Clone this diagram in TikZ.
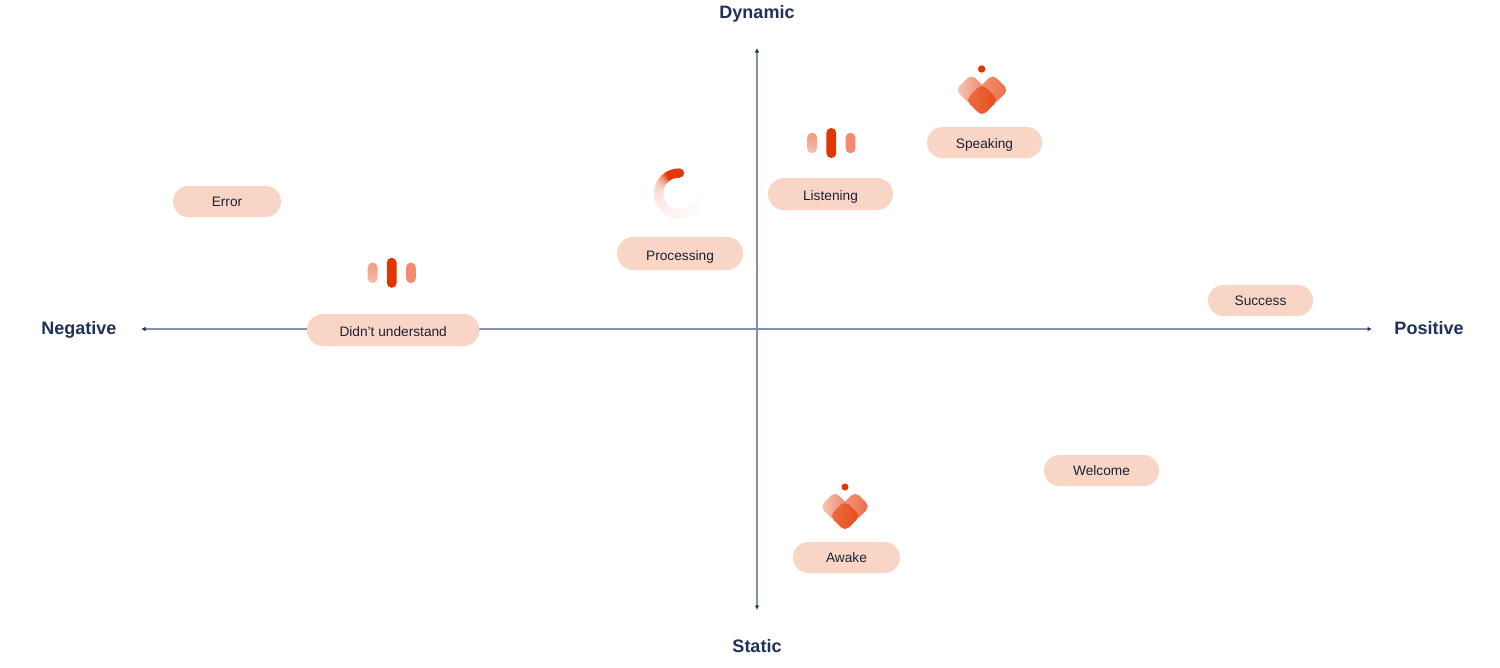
\documentclass[tikz,border=0pt]{standalone}
\usepackage{fontspec}
\setmainfont{Liberation Sans}
\usetikzlibrary{arrows.meta}
\definecolor{axisline}{HTML}{8491AC}
\definecolor{axisdark}{HTML}{1F3158}
\definecolor{pillfill}{HTML}{F9D5C6}
\definecolor{pilltext}{HTML}{1C2233}
\definecolor{hot}{HTML}{E43500}
\definecolor{lobeAa}{HTML}{F7C8B8}
\definecolor{lobeAb}{HTML}{EE8060}
\definecolor{lobeBa}{HTML}{F29A7E}
\definecolor{lobeBb}{HTML}{EC6B46}
\definecolor{lobeCa}{HTML}{EC7044}
\definecolor{lobeCb}{HTML}{E54A18}
\definecolor{barlo}{HTML}{F7BFAE}
\definecolor{barhi}{HTML}{EF9A80}
\definecolor{barside}{HTML}{F28B6F}
\tikzset{
  x=1pt,y=-1pt,
  axisarrow/.style={draw=axisline,line width=1.05pt,{Latex[length=4.5pt,width=4.5pt,color=axisdark]}-{Latex[length=4.5pt,width=4.5pt,color=axisdark]}},
  axislabel/.style={font=\fontsize{18}{20}\selectfont\bfseries,text=axisdark,inner sep=0pt},
  pill/.style={fill=pillfill,text=pilltext,font=\fontsize{13.7}{16}\selectfont,inner sep=0pt,text height=10pt,text depth=0pt,align=center},
  lowered/.style={text height=12pt},
  bar/.style={rounded corners=4.8pt},
  lobe/.style={rounded corners=5.5pt}
}
% heart icon: #1 x, #2 y (centre of the group), #3 scale
\newcommand{\heartmark}[3]{%
  \begin{scope}[shift={(#1,#2)},scale=#3]
    \shade[lobe,shading angle=-45,left color=lobeAa,right color=lobeAb,rotate around={45:(-10.7,-5.5)}] (-21.85,-16.65) rectangle (0.45,5.65);
    \shade[lobe,shading angle=-135,left color=lobeBa,right color=lobeBb,rotate around={45:(10.7,-5.5)}] (-0.45,-16.65) rectangle (21.85,5.65);
    \shade[lobe,shading angle=-45,left color=lobeCa,right color=lobeCb,rotate around={45:(0,4.5)}] (-11.5,-7) rectangle (11.5,16);
  \end{scope}}
% three bars: #1 centre x, #2 centre y
\newcommand{\barsmark}[2]{%
  \begin{scope}[shift={(#1,#2)}]
    \shade[bar,top color=barhi,bottom color=barlo] (-24,-10.2) rectangle (-14.2,10.2);
    \fill[bar,hot] (-4.9,-15) rectangle (4.9,15);
    \fill[bar,barside] (14.3,-10.2) rectangle (24.1,10.2);
  \end{scope}}
\begin{document}
\begin{tikzpicture}
\useasboundingbox (0,0) rectangle (1500,667);
\fill[white] (0,0) rectangle (1500,667);

% axis labels
\node[axislabel] (neg) at (79,330) {Negative};
\node[axislabel] (pos) at (1429,328) {Positive};
\node[axislabel] (dyn) at (757,14) {Dynamic};
\node[axislabel] (sta) at (757,646) {Static};

% axes
\coordinate (xl) at (141,329);
\coordinate (xr) at (1372,329);
\coordinate (yt) at (757,48);
\coordinate (yb) at (757,610);
\draw[axisarrow] (xl) -- (xr);
\draw[axisarrow] (yt) -- (yb);

% pills
\node[pill,lowered,minimum width=115pt,minimum height=31pt,rounded corners=15.5pt] (speaking) at (984.5,142.5) {Speaking};
\node[pill,lowered,minimum width=125pt,minimum height=32pt,rounded corners=16pt] (listening) at (830.5,194) {Listening};
\node[pill,text height=13pt,minimum width=126pt,minimum height=33pt,rounded corners=16.5pt] (processing) at (680,253.5) {Processing};
\node[pill,minimum width=108pt,minimum height=31pt,rounded corners=15.5pt] (error) at (227,201.5) {Error};
\node[pill,lowered,minimum width=172.5pt,minimum height=32pt,rounded corners=16pt] (didnt) at (393.2,330) {Didn't understand};
\node[pill,minimum width=105pt,minimum height=31pt,rounded corners=15.5pt] (success) at (1260.5,300.5) {Success};
\node[pill,minimum width=115pt,minimum height=31pt,rounded corners=15.5pt] (welcome) at (1101.5,470.5) {Welcome};
\node[pill,minimum width=107pt,minimum height=31pt,rounded corners=15.5pt] (awake) at (846.5,557.5) {Awake};

% heart icons
\heartmark{982}{95.5}{1}
\fill[hot] (981.7,69) circle (3.7);
\heartmark{845}{511.7}{0.945}
\fill[hot] (845,487) circle (3.5);

% bars
\barsmark{831.3}{143}
\barsmark{391.7}{272.8}

% spinner
\foreach \a in {358,356,...,90}{
  \pgfmathsetmacro{\q}{min(100,100*exp(-(\a-122)/19)+14*(358-\a)/236)}
  \colorlet{segc}{hot!\q!white}
  \draw[segc,line width=9pt] ({679+20.5*cos(\a)},{193.5-20.5*sin(\a)}) arc[start angle=-\a,end angle={-\a+3},radius=20.5];
}
\fill[hot] ({679+20.5*cos(88)},{193.5-20.5*sin(88)}) circle (4.5);
\end{tikzpicture}
\end{document}
